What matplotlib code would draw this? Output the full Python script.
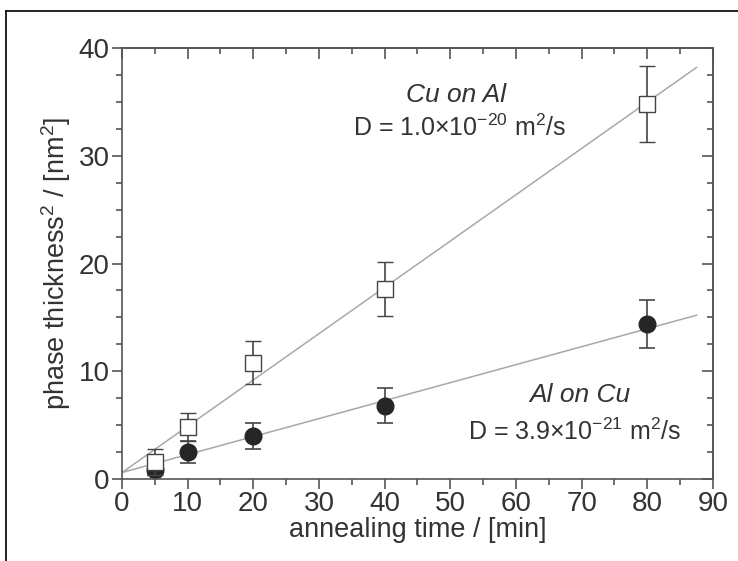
import matplotlib
matplotlib.use('Agg')
import matplotlib.pyplot as plt
import matplotlib.ticker as mticker
from matplotlib.lines import Line2D

plt.rcParams['font.family'] = ['Liberation Sans', 'DejaVu Sans']
plt.rcParams['mathtext.default'] = 'regular'

# annealing time [min]
times = [5, 10, 20, 40, 80]

# Cu on Al (open squares)
cu_al = [1.6, 4.8, 10.8, 17.6, 34.8]
cu_al_err = [1.2, 1.3, 2.0, 2.5, 3.5]

# Al on Cu (filled circles)
al_cu = [0.8, 2.5, 4.0, 6.8, 14.4]
al_cu_err = [0.4, 1.0, 1.2, 1.6, 2.2]

# linear fits
fit_x = [0, 87.5]
cu_al_fit = [0.6, 38.2]
al_cu_fit = [0.6, 15.2]

TEXT = '#333333'
SPINE = '#555555'
FIT = '#a8a8a8'

fig = plt.figure(figsize=(7.38, 5.61), dpi=100)
ax = fig.add_axes([0.1653, 0.1462, 0.8008, 0.7682])

ax.plot(fit_x, cu_al_fit, color=FIT, lw=1.1, zorder=1)
ax.plot(fit_x, al_cu_fit, color=FIT, lw=1.1, zorder=1)

ax.errorbar(times, al_cu, yerr=al_cu_err, fmt='o', color='#262626',
            ms=12, ecolor='#444444', elinewidth=1.2, capsize=6, capthick=1.2,
            zorder=2)
ax.errorbar(times, cu_al, yerr=cu_al_err, fmt='s', mfc='white', mec='#444444',
            mew=1.0, ms=12, ecolor='#444444', elinewidth=1.2, capsize=6,
            capthick=1.2, zorder=3)

ax.set_xlim(0, 90)
ax.set_ylim(0, 40)
ax.xaxis.set_major_locator(mticker.MultipleLocator(10))
ax.xaxis.set_minor_locator(mticker.MultipleLocator(5))
ax.yaxis.set_major_locator(mticker.MultipleLocator(10))
ax.yaxis.set_minor_locator(mticker.MultipleLocator(2.5))
ax.tick_params(which='both', direction='out', color=SPINE, width=1.2,
               labelsize=20, labelcolor=TEXT, pad=2)
ax.tick_params(which='major', length=7)
ax.tick_params(which='minor', length=4)

for s in ax.spines.values():
    s.set_color(SPINE)
    s.set_linewidth(1.2)

top = ax.secondary_xaxis('top')
top.xaxis.set_major_locator(mticker.MultipleLocator(10))
top.xaxis.set_minor_locator(mticker.MultipleLocator(5))
top.tick_params(which='both', direction='in', color=SPINE, width=1.2,
                labeltop=False)
top.tick_params(which='major', length=8)
top.tick_params(which='minor', length=4)
top.spines['top'].set_color(SPINE)
top.spines['top'].set_linewidth(1.2)

right = ax.secondary_yaxis('right')
right.yaxis.set_major_locator(mticker.MultipleLocator(10))
right.yaxis.set_minor_locator(mticker.MultipleLocator(2.5))
right.tick_params(which='both', direction='in', color=SPINE, width=1.2,
                  labelright=False)
right.tick_params(which='major', length=8)
right.tick_params(which='minor', length=4)
right.spines['right'].set_color(SPINE)
right.spines['right'].set_linewidth(1.2)

ax.set_xlabel('annealing time / [min]', fontsize=19.5, color=TEXT,
              labelpad=0)
ax.set_ylabel('phase thickness$^2$ / [nm$^2$]', fontsize=19.5, color=TEXT,
              labelpad=4)

ax.text(50.8, 35.6, 'Cu on Al', fontsize=19, style='italic', color=TEXT,
        ha='center', va='center')
ax.text(51.4, 32.6, 'D = 1.0\u00d710$^{-20}$ m$^2$/s', fontsize=18,
        color=TEXT, ha='center', va='center')
ax.text(69.7, 7.8, 'Al on Cu', fontsize=19, style='italic', color=TEXT,
        ha='center', va='center')
ax.text(69.0, 4.4, 'D = 3.9\u00d710$^{-21}$ m$^2$/s', fontsize=18,
        color=TEXT, ha='center', va='center')

# outer frame (left and top edges visible)
fig.add_artist(Line2D([6 / 738, 6 / 738], [0, 1 - 11 / 561],
                      transform=fig.transFigure, color='black', lw=1.2))
fig.add_artist(Line2D([6 / 738, 1], [1 - 11 / 561, 1 - 11 / 561],
                      transform=fig.transFigure, color='black', lw=1.2))

fig.savefig('out.png', dpi=100)
plt.close(fig)
